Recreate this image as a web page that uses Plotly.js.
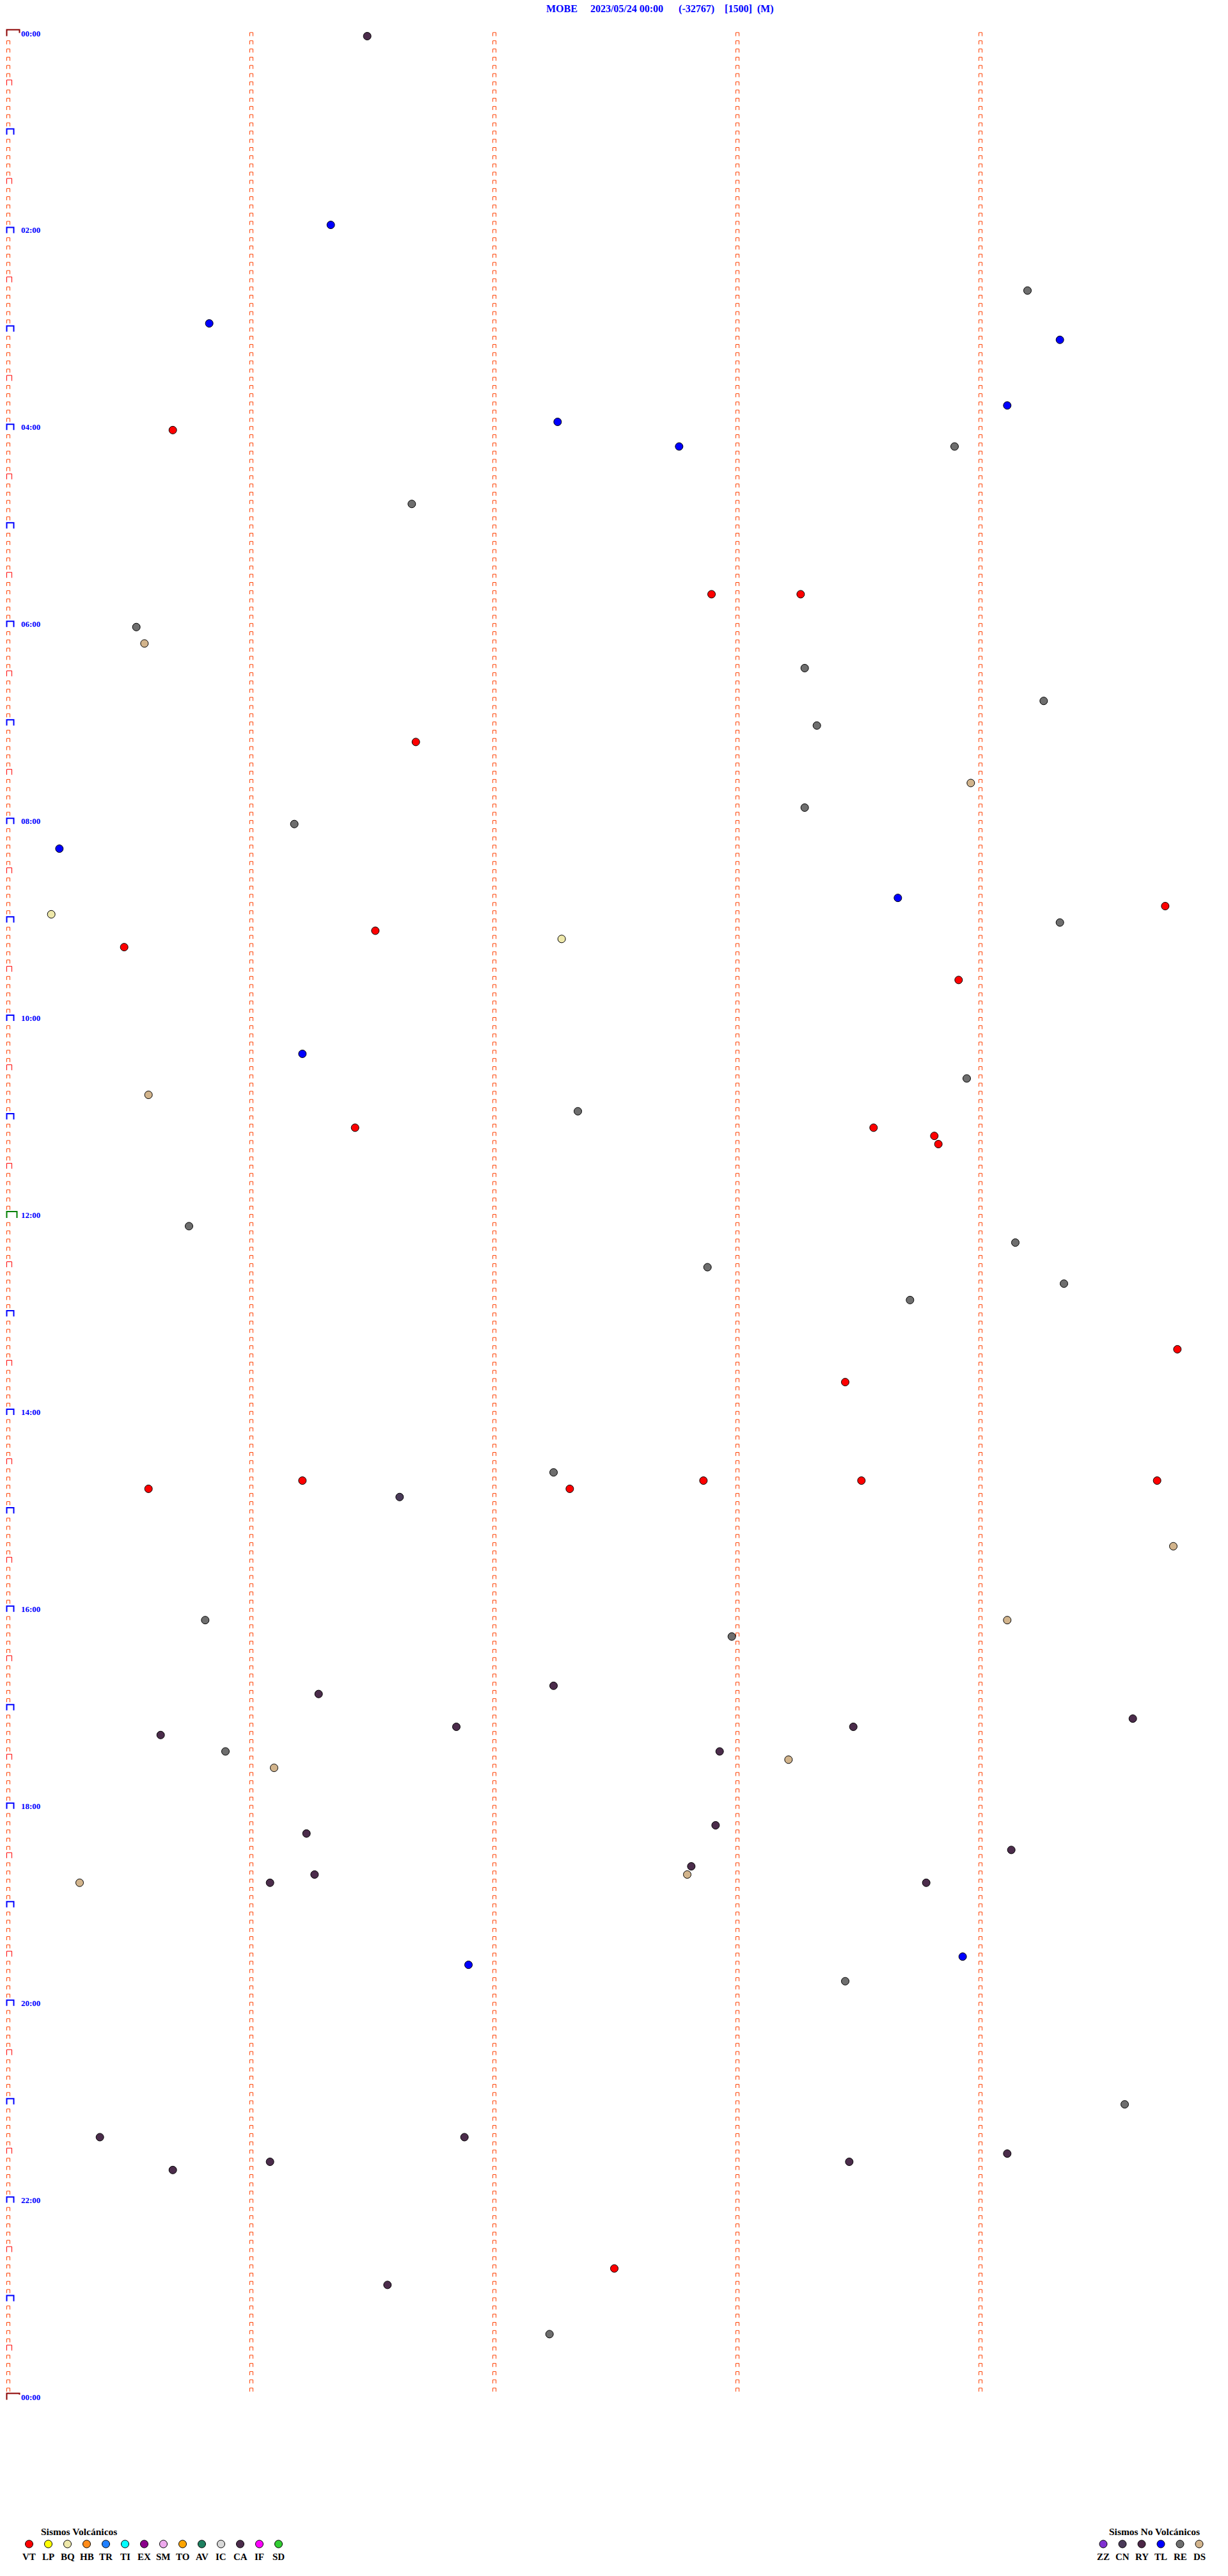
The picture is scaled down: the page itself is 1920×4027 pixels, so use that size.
<!DOCTYPE html>
<html>
<head>
<meta charset="utf-8">
<script src="https://cdn.plot.ly/plotly-3.0.1.min.js"></script>
<style>html,body{margin:0;padding:0;background:#fff;}</style>
</head>
<body>
<div id="chart" style="width:1920px;height:4027px;"></div>
<script>
// ---------------- DATA ----------------
const station = "MOBE";
const startLabel = "2023/05/24 00:00";
const offsetLabel = "(-32767)";
const scaleLabel = "[1500]";
const modeLabel = "(M)";

const minutesPerRow = 5;
const rowCount = 288;
const hourLabels = ["00:00","02:00","04:00","06:00","08:00","10:00","12:00",
                    "14:00","16:00","18:00","20:00","22:00","00:00"];

// Event times (HH:MM:SS) per type
const VT = ["04:00:41","05:42:54","05:43:16","07:11:41","08:54:46","09:06:31","09:15:29",
            "09:38:55","11:06:26","11:08:34","11:13:49","11:18:50","13:24:49","13:43:27",
            "14:41:13","14:42:52","14:43:31","14:44:44","14:45:35","14:47:19","22:42:30"];
const BQ = ["08:55:11","09:12:17"];
const TL = ["01:56:20","02:55:50","03:09:20","03:49:07","03:57:16","04:12:46","08:15:13",
            "08:48:40","10:21:13","19:33:56","19:36:54"];
const RE = ["02:39:12","04:13:54","04:46:40","06:00:32","06:28:17","06:49:16","07:03:20",
            "07:53:17","08:01:11","09:04:20","10:38:57","10:57:21","12:05:45","12:19:09",
            "12:32:53","12:44:21","12:53:43","14:37:15","16:05:49","16:17:59","17:25:54",
            "19:48:27","21:04:36","23:22:14"];
const DS = ["06:10:34","07:38:58","10:45:35","15:24:48","16:09:07","17:33:13","17:36:06",
            "18:42:48","18:45:18"];
const CA = ["00:01:29","16:47:15","16:51:17","17:09:38","17:11:51","17:13:29","17:15:38",
            "17:27:56","18:12:55","18:16:14","18:29:08","18:37:49","18:41:16","18:46:05",
            "18:48:47","21:20:23","21:21:53","21:34:07","21:36:05","21:38:28","21:40:41",
            "22:51:34"];
const CN = ["14:51:37"];

// Legend categories
const volcanicCodes  = ["VT","LP","BQ","HB","TR","TI","EX","SM","TO","AV","IC","CA","IF","SD"];
const volcanicColors = ["#ff0000","#ffff00","#eee8aa","#ff8c1a","#2080ff","#00ffff","#8b008b",
                        "#eeaaee","#ffa500","#1f8060","#d8d8d8","#4b2c4b","#ff00ff","#32cd32"];
const nonVolcanicCodes  = ["ZZ","CN","RY","TL","RE","DS"];
const nonVolcanicColors = ["#7f30d0","#4a3a58","#4b2646","#0000ff","#6e6e6e","#d2b48c"];

// ---------------- GEOMETRY (layout only) ----------------
const W = 1920, H = 4027;
const X0 = 10.5, PXM = 380;     // pixel of minute 0, pixels per minute
const Y0 = 56.5, ROWPX = 12.83; // pixel of row 0, pixels per row
const dxm = px => px / PXM;
const dyr = px => px / ROWPX;

const colorOf = {};
volcanicCodes.forEach((c,i)=>colorOf[c]=volcanicColors[i]);
nonVolcanicCodes.forEach((c,i)=>colorOf[c]=nonVolcanicColors[i]);

function toMin(s){ const p=s.split(":").map(Number); return p[0]*60+p[1]+p[2]/60; }

const traces = [];

// minute tick marks
function addBracket(arrX, arrY, m, r, wpx, hpx, rightLegPx){
  const rl = (rightLegPx===undefined) ? hpx : rightLegPx;
  arrX.push(m, m, m+dxm(wpx), m+dxm(wpx), null);
  arrY.push(r, r-dyr(hpx), r-dyr(hpx), r-dyr(hpx)+dyr(rl), null);
}
const small={x:[],y:[]}, half={x:[],y:[]}, hour={x:[],y:[]}, noon={x:[],y:[]}, midnight={x:[],y:[]};
for(let r=0;r<rowCount;r++){
  for(let m=0;m<minutesPerRow;m++){
    if(m===0 && r%6===0){
      if(r===0) addBracket(midnight.x, midnight.y, 0, r, 20, 10, 5);
      else if(r===144) addBracket(noon.x, noon.y, 0, r, 16, 10);
      else if(r%12===0) addBracket(hour.x, hour.y, 0, r, 11, 9);
      else addBracket(half.x, half.y, 0, r, 8, 8.5);
    } else {
      addBracket(small.x, small.y, m, r, 5, 5.6);
    }
  }
}
addBracket(midnight.x, midnight.y, 0, rowCount, 20, 10, 2);

function lineTrace(d, color, width){
  return {type:"scatter", mode:"lines", x:d.x, y:d.y, hoverinfo:"skip",
          line:{color:color, width:width}, showlegend:false, connectgaps:false};
}
traces.push(lineTrace(small, "#ff4000", 1));
traces.push(lineTrace(half, "#ff0000", 1));
traces.push(lineTrace(hour, "#0000ff", 2));
traces.push(lineTrace(noon, "#008000", 2));
traces.push(lineTrace(midnight, "#8b0000", 2));

// events
const eventSets = {RE:RE, DS:DS, CA:CA, CN:CN, BQ:BQ, TL:TL, VT:VT};
Object.keys(eventSets).forEach(code=>{
  const t = eventSets[code].map(toMin);
  const rows = t.map(v=>Math.floor(v/minutesPerRow));
  const xs = t.map((v,i)=>v - rows[i]*minutesPerRow);
  traces.push({type:"scatter", mode:"markers", x:xs, y:rows, name:code, showlegend:false,
    marker:{size:12, color:colorOf[code], line:{color:"#000000", width:1}}});
});

// legend markers (pixel overlay axes)
const legY = 3977;
traces.push({type:"scatter", mode:"markers", xaxis:"x2", yaxis:"y2", showlegend:false,
  x: volcanicCodes.map((c,i)=>45.5+30*i), y: volcanicCodes.map(()=>legY),
  marker:{size:12, color:volcanicColors, line:{color:"#000", width:1}}});
traces.push({type:"scatter", mode:"markers", xaxis:"x2", yaxis:"y2", showlegend:false,
  x: nonVolcanicCodes.map((c,i)=>1725+30*i), y: nonVolcanicCodes.map(()=>legY),
  marker:{size:12, color:nonVolcanicColors, line:{color:"#000", width:1}}});

// annotations
const serif = "Liberation Serif, Times New Roman, serif";
const ann = [];
const nb = n => "\u00A0".repeat(n);
ann.push({xref:"paper", yref:"paper", x:853/W, y:1-13.5/H, xanchor:"left", yanchor:"middle",
  showarrow:false, borderpad:0,
  text:"<b>"+station+nb(5)+startLabel+nb(6)+offsetLabel+nb(4)+scaleLabel+nb(2)+modeLabel+"</b>",
  font:{family:serif, size:16, color:"#0000ff"}});
hourLabels.forEach((lab,i)=>{
  ann.push({xref:"x", yref:"y", x:dxm(32-X0), y:i*24 - dyr(4.5), xanchor:"left", yanchor:"middle",
    showarrow:false, borderpad:0, text:"<b>"+lab+"</b>",
    font:{family:serif, size:13, color:"#0000ff"}});
});
ann.push({xref:"x2", yref:"y2", x:63, y:3957, xanchor:"left", yanchor:"middle", showarrow:false,
  borderpad:0, text:"<b>Sismos Volcánicos</b>", font:{family:serif, size:15.5, color:"#000"}});
ann.push({xref:"x2", yref:"y2", x:1733, y:3957, xanchor:"left", yanchor:"middle", showarrow:false,
  borderpad:0, text:"<b>Sismos No Volcánicos</b>", font:{family:serif, size:15.5, color:"#000"}});
volcanicCodes.forEach((c,i)=>ann.push({xref:"x2", yref:"y2", x:45.5+30*i, y:3997, xanchor:"center",
  yanchor:"middle", showarrow:false, borderpad:0, text:"<b>"+c+"</b>",
  font:{family:serif, size:15, color:"#000"}}));
nonVolcanicCodes.forEach((c,i)=>ann.push({xref:"x2", yref:"y2", x:1725+30*i, y:3997, xanchor:"center",
  yanchor:"middle", showarrow:false, borderpad:0, text:"<b>"+c+"</b>",
  font:{family:serif, size:15, color:"#000"}}));

const layout = {
  width:W, height:H, margin:{l:0,r:0,t:0,b:0,pad:0},
  paper_bgcolor:"#ffffff", plot_bgcolor:"#ffffff", showlegend:false,
  xaxis:{range:[-X0/PXM, (W-X0)/PXM], visible:false, fixedrange:true},
  yaxis:{range:[(H-Y0)/ROWPX, -Y0/ROWPX], visible:false, fixedrange:true},
  xaxis2:{range:[0,W], overlaying:"x", visible:false, fixedrange:true, anchor:"y2"},
  yaxis2:{range:[H,0], overlaying:"y", visible:false, fixedrange:true, anchor:"x2"},
  annotations: ann,
  hovermode:false
};
Plotly.newPlot("chart", traces, layout, {staticPlot:true, displayModeBar:false});
</script>
</body>
</html>
